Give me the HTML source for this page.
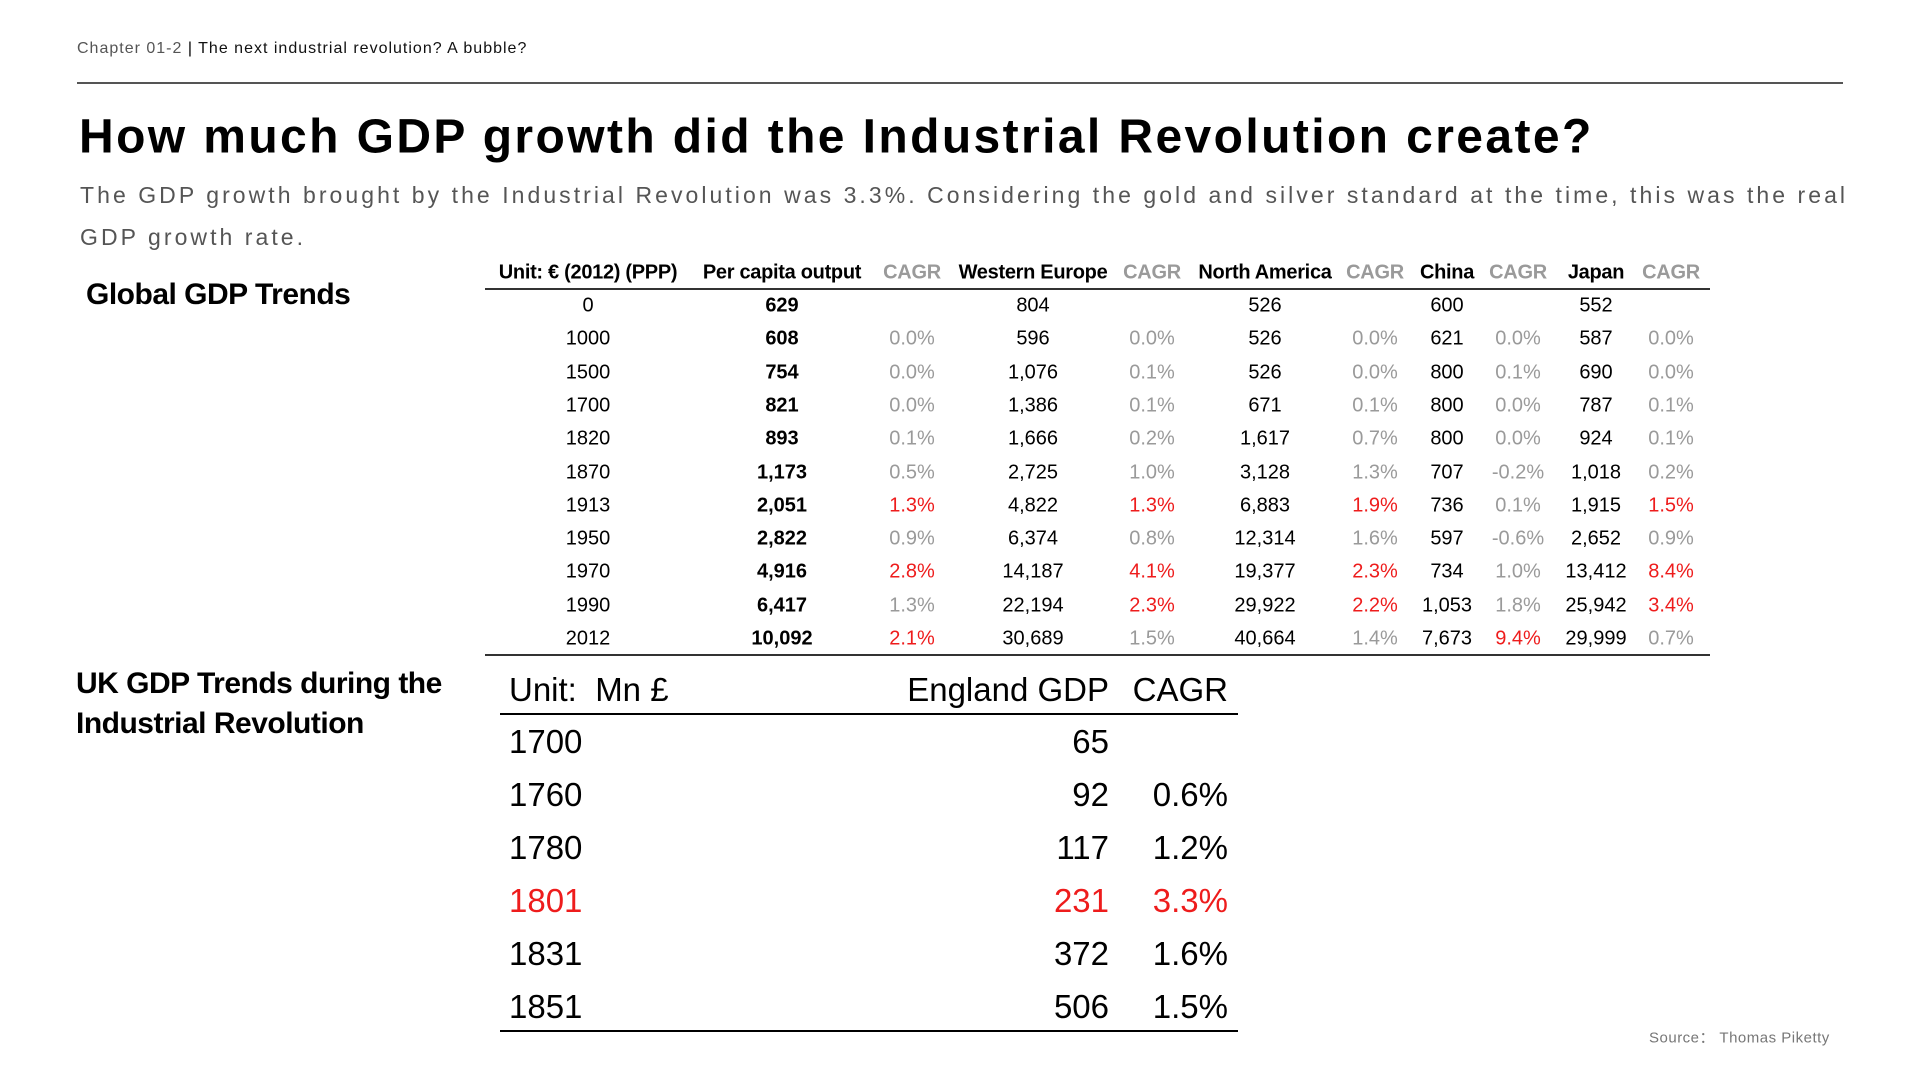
<!DOCTYPE html>
<html><head><meta charset="utf-8"><style>
body{margin:0;width:1920px;height:1080px;background:#fff;position:relative;overflow:hidden;font-family:"Liberation Sans",sans-serif;color:#000}
.a{position:absolute;white-space:nowrap}
.c{transform:translate(-50%,-50%)}
.r{transform:translate(-100%,-50%)}
.l{transform:translate(0,-50%)}
.red{color:#ee1c1c}.g{color:#9a9a9a}
</style></head><body>
<div class="a l" style="left:77px;top:49px;font-size:16px;color:#555;letter-spacing:1px">Chapter 01-2 <span style="color:#000">|</span> <span style="color:#111">The next industrial revolution? A bubble?</span></div>
<div class="a" style="left:77px;top:82px;width:1766px;height:2px;background:#555"></div>
<div class="a l" style="left:79px;top:137px;font-size:48px;font-weight:bold;letter-spacing:2.4px">How much GDP growth did the Industrial Revolution create?</div>
<div class="a" style="left:80px;top:174px;width:1800px;font-size:23px;color:#555;letter-spacing:3.05px;line-height:42px;white-space:normal">The GDP growth brought by the Industrial Revolution was 3.3%. Considering the gold and silver standard at the time, this was the real GDP growth rate.</div>
<div class="a l" style="left:86px;top:295px;font-size:30px;font-weight:bold;letter-spacing:-0.5px">Global GDP Trends</div>
<div class="a" style="left:76px;top:664px;font-size:30px;font-weight:bold;line-height:40px;letter-spacing:-0.5px">UK GDP Trends during the<br>Industrial Revolution</div>
<div class="a" style="left:485px;top:288px;width:1225px;height:2px;background:#333"></div>
<div class="a" style="left:485px;top:654px;width:1225px;height:2px;background:#333"></div>
<div id="t1"></div>
<div class="a" style="left:500px;top:713px;width:738px;height:2px;background:#000"></div>
<div class="a" style="left:500px;top:1030px;width:738px;height:2px;background:#000"></div>
<div id="t2"></div>
<div class="a l" style="left:1649px;top:1037px;font-size:15px;color:#777;letter-spacing:0.5px">Source： Thomas Piketty</div>
<script>
const headers=["Unit: € (2012) (PPP)","Per capita output","CAGR","Western Europe","CAGR","North America","CAGR","China","CAGR","Japan","CAGR"];
const years=["0","1000","1500","1700","1820","1870","1913","1950","1970","1990","2012"];
const perCapita=["629","608","754","821","893","1,173","2,051","2,822","4,916","6,417","10,092"];
const pcCagr=["","0.0%","0.0%","0.0%","0.1%","0.5%","1.3%","0.9%","2.8%","1.3%","2.1%"];
const westEurope=["804","596","1,076","1,386","1,666","2,725","4,822","6,374","14,187","22,194","30,689"];
const weCagr=["","0.0%","0.1%","0.1%","0.2%","1.0%","1.3%","0.8%","4.1%","2.3%","1.5%"];
const northAmerica=["526","526","526","671","1,617","3,128","6,883","12,314","19,377","29,922","40,664"];
const naCagr=["","0.0%","0.0%","0.1%","0.7%","1.3%","1.9%","1.6%","2.3%","2.2%","1.4%"];
const china=["600","621","800","800","800","707","736","597","734","1,053","7,673"];
const cnCagr=["","0.0%","0.1%","0.0%","0.0%","-0.2%","0.1%","-0.6%","1.0%","1.8%","9.4%"];
const japan=["552","587","690","787","924","1,018","1,915","2,652","13,412","25,942","29,999"];
const jpCagr=["","0.0%","0.0%","0.1%","0.1%","0.2%","1.5%","0.9%","8.4%","3.4%","0.7%"];
const redCells={pc:[6,8,10],we:[6,8,9],na:[6,8,9],cn:[10],jp:[6,8,9]};
const ukYears=["1700","1760","1780","1801","1831","1851"];
const ukGdp=["65","92","117","231","372","506"];
const ukCagr=["","0.6%","1.2%","3.3%","1.6%","1.5%"];
const ukHighlight=[3];
const colX=[588,782,912,1033,1152,1265,1375,1447,1518,1596,1671];
function add(parent,txt,x,y,cls,style){const d=document.createElement('div');d.className='a '+cls;d.style.left=x+'px';d.style.top=y+'px';d.style.cssText+=style;d.textContent=txt;parent.appendChild(d);return d;}
const t1=document.getElementById('t1');
headers.forEach((h,i)=>{const e=add(t1,h,colX[i],273,'c'+(h==='CAGR'?' g':''),'font-size:20px;font-weight:bold;letter-spacing:-0.3px');

});
const cols=[[years,null],[perCapita,null,'font-weight:bold'],[pcCagr,'pc'],[westEurope,null],[weCagr,'we'],[northAmerica,null],[naCagr,'na'],[china,null],[cnCagr,'cn'],[japan,null],[jpCagr,'jp']];
cols.forEach((c,ci)=>{c[0].forEach((v,ri)=>{let cls='c';if(c[1]){cls+=redCells[c[1]].includes(ri)?' red':' g';}
const e=add(t1,v,colX[ci],306+ri*33.3,cls,'font-size:20px;'+(c[2]||''));

});});
const t2=document.getElementById('t2');
let e;
e=add(t2,'Unit:\u00a0\u00a0Mn £',509,690,'l','font-size:33px');


e=add(t2,'England GDP',1109,690,'r','font-size:33px');


e=add(t2,'CAGR',1228,690,'r','font-size:33px');


ukYears.forEach((y,i)=>{const cls=ukHighlight.includes(i)?' red':'';const yy=742+i*53;
let a=add(t2,y,509,yy,'l'+cls,'font-size:33px');


a=add(t2,ukGdp[i],1109,yy,'r'+cls,'font-size:33px');


a=add(t2,ukCagr[i],1228,yy,'r'+cls,'font-size:33px');

});
</script>
</body></html>
